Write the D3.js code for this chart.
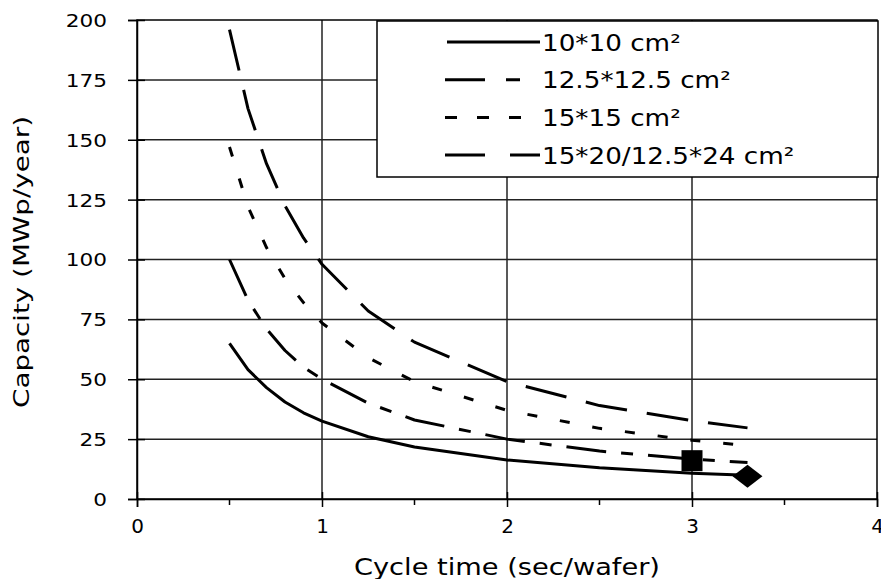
<!DOCTYPE html>
<html>
<head>
<meta charset="utf-8">
<script src="https://cdn.jsdelivr.net/npm/d3@7"></script>
<style>
  body { margin: 0; background: #fff; }
  text { font-family: "DejaVu Sans", Verdana, sans-serif; fill: #000; }
</style>
</head>
<body>
<svg id="chart"></svg>
<script>
// data
const cycleTime = [0.5, 0.6, 0.7, 0.8, 0.9, 1, 1.25, 1.5, 2, 2.5, 3, 3.3];
const cap10x10 = [65, 54, 46.5, 40.5, 36, 32.5, 26, 21.7, 16.3, 13, 10.8, 9.9];
const cap125x125 = [100, 83, 71, 62, 55, 50, 40, 33, 25, 20, 16.7, 15.2];
const cap15x15 = [147, 122, 105, 92, 82, 73.5, 59, 49, 37, 29.5, 24.5, 22.3];
const cap15x20 = [196, 163, 140, 122.5, 109, 98, 78.5, 65.5, 49, 39, 32.7, 29.7];
const seriesNames = ["10*10 cm²", "12.5*12.5 cm²", "15*15 cm²", "15*20/12.5*24 cm²"];
const markerX = [3, 3.3];
const markerY = [16, 9.5];
const markerShape = ["square", "diamond"];
const xTicks = [0, 1, 2, 3, 4];
const xMinorTicks = [0.5, 1.5, 2.5, 3.5];
const yTicks = [0, 25, 50, 75, 100, 125, 150, 175, 200];

const W = 881, H = 579;
const svg = d3.select("#chart").attr("width", W).attr("height", H);

const x = d3.scaleLinear().domain([0, 4]).range([137, 877]);
const y = d3.scaleLinear().domain([0, 200]).range([499, 20]);

// stretch text horizontally so it fills the same width as the picture
function stretch(sel, factor) {
    sel.each(function () {
        const len = this.getComputedTextLength();
        d3.select(this).attr("textLength", len * factor).attr("lengthAdjust", "spacingAndGlyphs");
    });
}

// grid
svg.append("g").attr("class", "grid")
    .selectAll("line.h").data(yTicks.filter(d => d > 0 && d < 200)).enter().append("line")
    .attr("x1", x(0)).attr("x2", x(4))
    .attr("y1", d => y(d)).attr("y2", d => y(d))
    .style("stroke", "#222").style("stroke-width", 1.5);
svg.select(".grid")
    .selectAll("line.v").data(xTicks.filter(d => d > 0 && d < 4)).enter().append("line")
    .attr("x1", d => x(d)).attr("x2", d => x(d))
    .attr("y1", y(0)).attr("y2", y(200))
    .style("stroke", "#222").style("stroke-width", 1.5);

// frame
svg.append("rect")
    .attr("x", x(0)).attr("y", y(200))
    .attr("width", x(4) - x(0)).attr("height", y(0) - y(200))
    .style("fill", "none").style("stroke", "#000").style("stroke-width", 1.5);

// y axis
const yAxis = svg.append("g").attr("transform", `translate(${x(0)},0)`)
    .call(d3.axisLeft(y).tickValues(yTicks).tickSize(9).tickPadding(21));
yAxis.select(".domain").style("stroke", "#000").style("stroke-width", 1.5);
yAxis.selectAll(".tick line").attr("x1", 8).style("stroke", "#000").style("stroke-width", 1.5);
yAxis.selectAll(".tick text")
    .style("font-family", "'DejaVu Sans', Verdana, sans-serif")
    .style("font-size", "18px").attr("dy", "0.36em");
stretch(yAxis.selectAll(".tick text"), 1.2);

// x axis
const xAxis = svg.append("g").attr("transform", `translate(0,${y(0)})`)
    .call(d3.axisBottom(x).tickValues(xTicks).tickFormat(d3.format("d")).tickSize(8).tickPadding(12));
xAxis.select(".domain").style("stroke", "#000").style("stroke-width", 1.5);
xAxis.selectAll(".tick line").attr("y1", -7).style("stroke", "#000").style("stroke-width", 1.5);
xAxis.selectAll(".tick text")
    .style("font-family", "'DejaVu Sans', Verdana, sans-serif")
    .style("font-size", "20px");
xAxis.selectAll("line.minor").data(xMinorTicks).enter().append("line")
    .attr("class", "minor")
    .attr("x1", d => x(d)).attr("x2", d => x(d))
    .attr("y1", 0).attr("y2", 6)
    .style("stroke", "#000").style("stroke-width", 1.5);

// axis titles
svg.append("text")
    .attr("x", (x(0) + x(4)) / 2).attr("y", 575)
    .attr("text-anchor", "middle")
    .style("font-size", "23px")
    .attr("textLength", 306).attr("lengthAdjust", "spacingAndGlyphs")
    .text("Cycle time (sec/wafer)");
svg.append("text")
    .attr("transform", "translate(29,262) rotate(-90)")
    .attr("text-anchor", "middle")
    .style("font-size", "22px")
    .attr("textLength", 292).attr("lengthAdjust", "spacingAndGlyphs")
    .text("Capacity (MWp/year)");

// curves
const series = [
    { name: seriesNames[0], values: cap10x10, dash: null, legendDash: null },
    { name: seriesNames[1], values: cap125x125, dash: "40,15,12,15", legendDash: "40,21,14,40" },
    { name: seriesNames[2], values: cap15x15, dash: "10,23", legendDash: "12,20" },
    { name: seriesNames[3], values: cap15x20, dash: "42,20", legendDash: "40,25" }
];

const line = d3.line().x(d => x(d[0])).y(d => y(d[1]));

svg.append("g").selectAll("path").data(series).enter().append("path")
    .attr("d", s => line(cycleTime.map((t, i) => [t, s.values[i]])))
    .style("fill", "none").style("stroke", "#000").style("stroke-width", 3)
    .style("stroke-linejoin", "round")
    .style("stroke-dasharray", s => s.dash);

// markers
const markers = markerX.map((mx, i) => ({ x: mx, y: markerY[i], shape: markerShape[i] }));
svg.append("g").selectAll("path").data(markers).enter().append("path")
    .attr("d", d3.symbol().type(d3.symbolSquare).size(d => d.shape === "square" ? 441 : 265))
    .attr("transform", d => d.shape === "square"
        ? `translate(${x(d.x)},${y(d.y)})`
        : `translate(${x(d.x)},${y(d.y)}) scale(1.3,1) rotate(45)`)
    .style("fill", "#000");

// legend
const legend = svg.append("g");
legend.append("rect")
    .attr("x", 377).attr("y", 21).attr("width", 501).attr("height", 156)
    .style("fill", "#fff").style("stroke", "#000").style("stroke-width", 1.5);

const rows = legend.selectAll("g.row").data(series).enter().append("g")
    .attr("class", "row")
    .attr("transform", (d, i) => `translate(0,${42 + i * 37.7})`);
rows.append("line")
    .attr("x1", (d, i) => i === 0 ? 447 : 445).attr("x2", 540)
    .attr("y1", 0).attr("y2", 0)
    .style("stroke", "#000").style("stroke-width", 3)
    .style("stroke-dasharray", d => d.legendDash);
rows.append("text")
    .attr("x", 542).attr("dy", "0.37em")
    .style("font-size", "23px")
    .text(d => d.name);
stretch(rows.selectAll("text"), 1.14);
</script>
</body>
</html>
